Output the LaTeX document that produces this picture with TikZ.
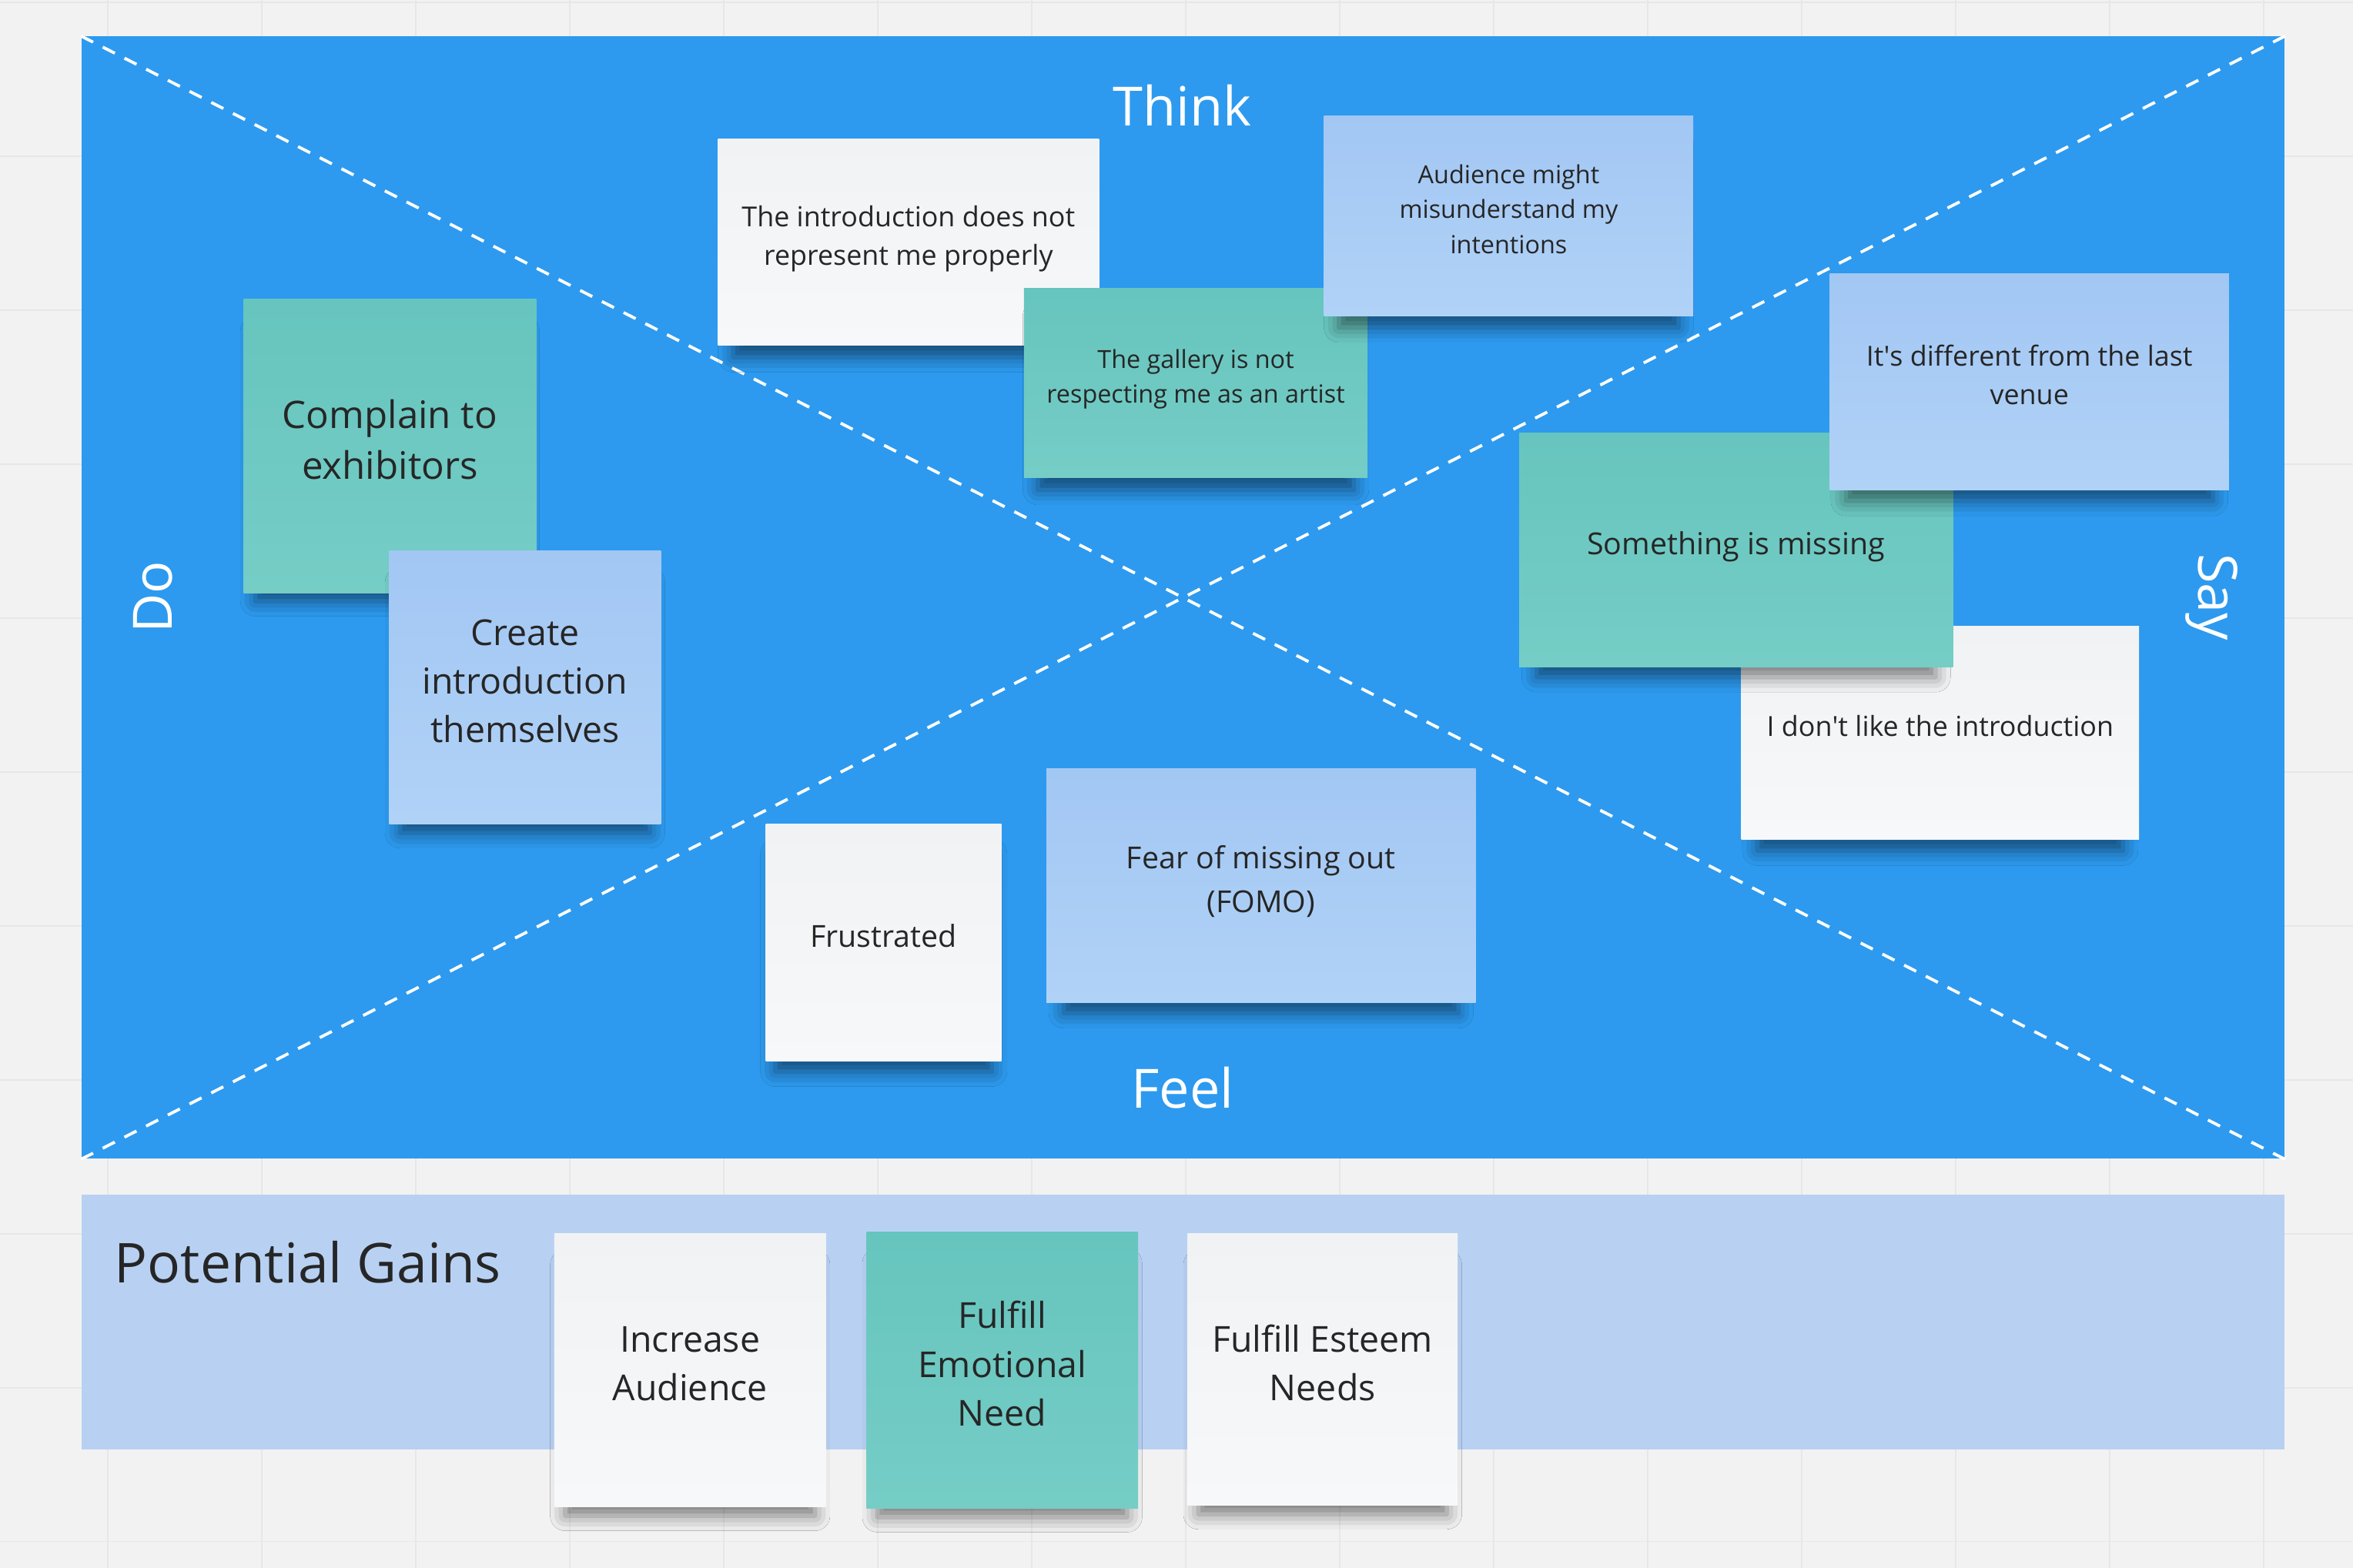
\documentclass[tikz,border=0pt]{standalone}
\usepackage{fontspec}
\setmainfont{Open Sans}
\usetikzlibrary{positioning, shadows.blur}
\definecolor{boardgray}{HTML}{F2F2F2}
\definecolor{gridgray}{HTML}{E7E7E7}
\definecolor{mapblue}{HTML}{2D9AEF}
\definecolor{gainblue}{HTML}{B8D1F3}
\definecolor{tealtop}{HTML}{66C5BE}
\definecolor{tealbot}{HTML}{75CDC6}
\definecolor{bluetop}{HTML}{A2C7F3}
\definecolor{bluebot}{HTML}{B1D2F7}
\definecolor{whitetop}{HTML}{F1F2F4}
\definecolor{whitebot}{HTML}{F7F8FA}
\definecolor{inktext}{HTML}{262626}
\newcommand{\pxu}{0.01949cm}
\tikzset{
    sticky/.style 2 args={rectangle, anchor=north west, inner sep=0pt, minimum width=#1*\pxu, minimum height=#2*\pxu, align=center, text=inktext, execute at end node={\rule[-5pt]{0pt}{5pt}}, blur shadow={shadow xshift=0pt, shadow yshift=-8pt, shadow scale=0.92, shadow blur radius=6pt, shadow opacity=50}},
    tealnote/.style 2 args={sticky={#1}{#2}, top color=tealtop, bottom color=tealbot},
    bluenote/.style 2 args={sticky={#1}{#2}, top color=bluetop, bottom color=bluebot},
    whitenote/.style 2 args={sticky={#1}{#2}, top color=whitetop, bottom color=whitebot},
    txtxs/.style={font=\fontsize{9.2}{12.9}\selectfont},
    txts/.style={font=\fontsize{10.2}{14.2}\selectfont},
    txtm/.style={font=\fontsize{11.2}{16}\selectfont},
    txtl/.style={font=\fontsize{13.2}{18}\selectfont},
    txtxl/.style={font=\fontsize{14}{18.8}\selectfont},
    quadlabel/.style={text=white, font=\fontsize{20}{24}\selectfont, inner sep=0pt},
    diagline/.style={white, line width=1.1pt, dash pattern=on 5pt off 4pt},
    gridline/.style={gridgray, line width=0.5pt},
}

\begin{document}
\begin{tikzpicture}[x=0.01949cm, y=-0.01949cm]
    \useasboundingbox (0,0) rectangle (1568,1045);
    % board
    \fill[boardgray] (0,0) rectangle (1568,1045);
    \foreach \gx in {72,174.6,...,1568} \draw[gridline] (\gx,0) -- (\gx,1045);
    \foreach \gy in {1.5,104.1,...,1045} \draw[gridline] (0,\gy) -- (1568,\gy);

    % empathy map
    \node[rectangle, fill=mapblue, anchor=north west, inner sep=0pt, minimum width=1468*\pxu, minimum height=748*\pxu] (map) at (54,24) {};
    \draw[diagline] (map.north west) -- (map.south east);
    \draw[diagline] (map.south west) -- (map.north east);
    \node[quadlabel] (think) at (788,70) {Think};
    \node[quadlabel] (feel) at (788,725) {Feel};
    \node[quadlabel, rotate=90] (do) at (102,398) {Do};
    \node[quadlabel, rotate=-90] (say) at (1474,398) {Say};

    % think
    \node[whitenote={254}{138}, txts] (intro) at (478,92) {The introduction does not\\represent me properly};
    \node[tealnote={229}{126}, txtxs] (gallery) at (682,192) {The gallery is not\\respecting me as an artist};
    \node[bluenote={246}{133}, txtxs] (audience) at (882,77) {Audience might\\misunderstand my\\intentions};

    % do
    \node[tealnote={195}{196}, txtxl] (complain) at (162,199) {Complain to\\exhibitors};
    \node[bluenote={181}{182}, txtl] (create) at (259,367) {Create\\introduction\\themselves};

    % say
    \node[whitenote={265}{142}, txts] (dontlike) at (1160,417) {I don\textquotesingle t like the introduction};
    \node[tealnote={289}{156}, txtm] (missing) at (1012,288) {Something is missing};
    \node[bluenote={266}{144}, txts] (different) at (1219,182) {It\textquotesingle s different from the last\\venue};

    % feel
    \node[whitenote={157}{158}, txtm] (frustrated) at (510,549) {Frustrated};
    \node[bluenote={286}{156}, txtm] (fomo) at (697,512) {Fear of missing out\\(FOMO)};

    % potential gains
    \node[rectangle, fill=gainblue, anchor=north west, inner sep=0pt, minimum width=1468*\pxu, minimum height=170*\pxu] (gains) at (54,796) {};
    \node[anchor=base west, inner sep=0pt, text=inktext, font=\fontsize{20.3}{24}\selectfont] (gainstitle) at (76,855) {Potential Gains};
    \node[whitenote={181}{182}, txtl] (increase) at (369,822) {Increase\\Audience};
    \node[tealnote={181}{184}, txtl] (emotional) at (577,821) {Fulfill\\Emotional\\Need};
    \node[whitenote={180}{181}, txtl] (esteem) at (791,822) {Fulfill Esteem\\Needs};
\end{tikzpicture}
\end{document}
